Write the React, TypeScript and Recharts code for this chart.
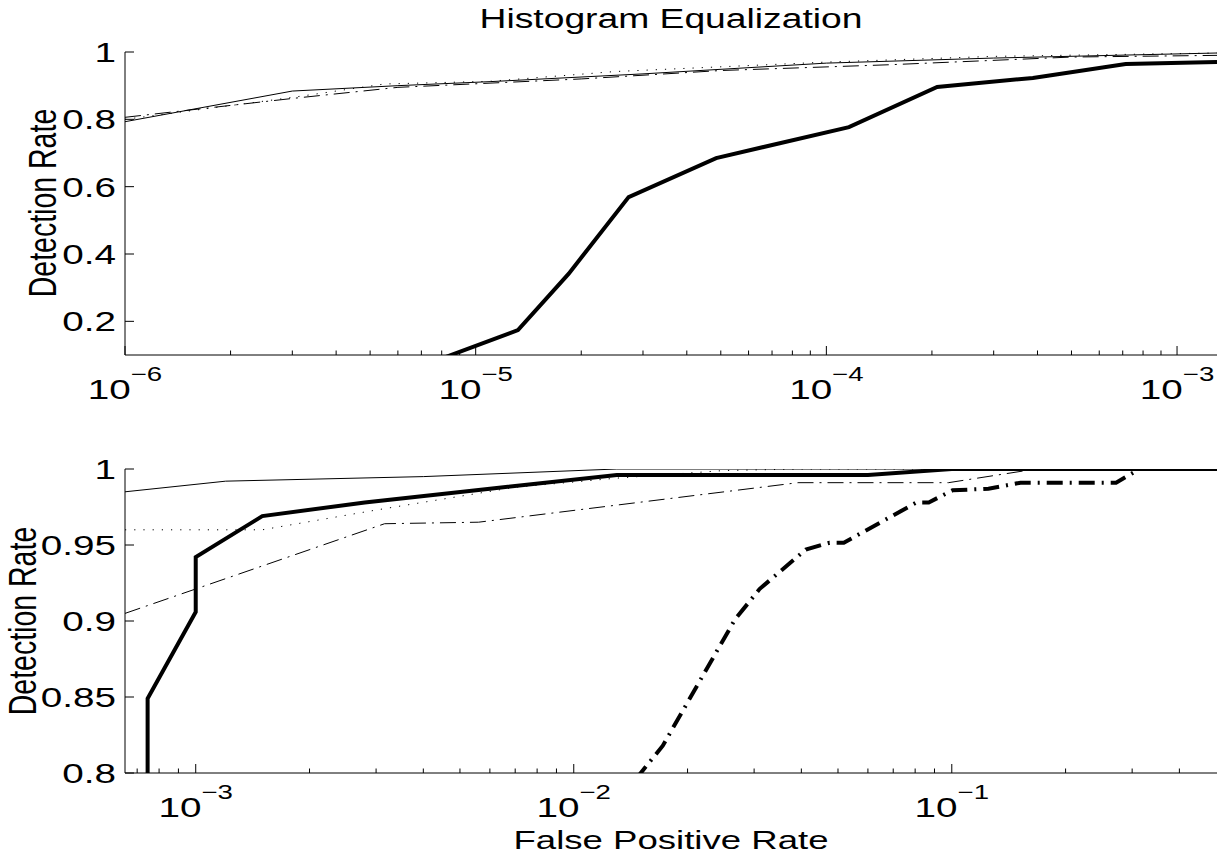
import React from "react";
import { LineChart, Line, XAxis, YAxis } from "recharts";

// ---- top panel (x: false positive rate, y: detection rate) ----
const topThinSolidFpr = [1e-6, 3e-6, 6e-6, 1.1e-5, 3e-5, 1e-4, 3e-4, 1.3e-3];
const topThinSolidDet = [0.793, 0.884, 0.9, 0.912, 0.935, 0.967, 0.982, 0.997];
const topDottedFpr = [1e-6, 3e-6, 5.5e-6, 1.1e-5, 2.5e-5, 1e-4, 3e-4, 1.3e-3];
const topDottedDet = [0.8, 0.865, 0.905, 0.913, 0.942, 0.97, 0.987, 0.997];
const topDashDotFpr = [1e-6, 3e-6, 6e-6, 2e-5, 5e-5, 1.5e-4, 5e-4, 1.3e-3];
const topDashDotDet = [0.806, 0.862, 0.895, 0.92, 0.945, 0.962, 0.985, 0.99];
const topThickFpr = [7e-6, 1.32e-5, 1.84e-5, 2.73e-5, 4.85e-5, 1.16e-4, 2.07e-4, 3.88e-4, 7.14e-4, 1.3e-3];
const topThickDet = [0.067, 0.174, 0.341, 0.569, 0.685, 0.777, 0.896, 0.923, 0.964, 0.97];

const topXTicks = [
  1e-6, 2e-6, 3e-6, 4e-6, 5e-6, 6e-6, 7e-6, 8e-6, 9e-6,
  1e-5, 2e-5, 3e-5, 4e-5, 5e-5, 6e-5, 7e-5, 8e-5, 9e-5,
  1e-4, 2e-4, 3e-4, 4e-4, 5e-4, 6e-4, 7e-4, 8e-4, 9e-4,
  1e-3,
];
const topXMajor = [1e-6, 1e-5, 1e-4, 1e-3];
const topXExp = ["\u22126", "\u22125", "\u22124", "\u22123"];
const topYTicks = [0.2, 0.4, 0.6, 0.8, 1];
const topYLabels = ["0.2", "0.4", "0.6", "0.8", "1"];

// ---- bottom panel ----
const botThinSolidFpr = [6.5e-4, 1.2e-3, 4e-3, 1.3e-2, 0.503];
const botThinSolidDet = [0.985, 0.992, 0.995, 1.0, 1.0];
const botDottedFpr = [6.5e-4, 1.5e-3, 3e-3, 7e-3, 1.3e-2, 2.5e-2, 4e-2, 0.503];
const botDottedDet = [0.96, 0.96, 0.973, 0.988, 0.994, 0.999, 1.0, 1.0];
const botDashDotFpr = [6.5e-4, 3.16e-3, 5.6e-3, 3.92e-2, 9.8e-2, 0.167, 0.503];
const botDashDotDet = [0.905, 0.964, 0.965, 0.991, 0.991, 1.0, 1.0];
const botThickFpr = [7.46e-4, 7.46e-4, 1e-3, 1e-3, 1.5e-3, 2.8e-3, 6e-3, 1.3e-2, 6e-2, 1e-1, 0.503];
const botThickDet = [0.78, 0.849, 0.906, 0.942, 0.969, 0.978, 0.987, 0.996, 0.996, 1.0, 1.0];
const botThickDashDotFpr = [
  1.46e-2, 1.72e-2, 2.67e-2, 3.1e-2, 4.11e-2, 4.75e-2, 5.18e-2, 8.07e-2,
  8.69e-2, 0.1005, 0.125, 0.152, 0.272, 0.314, 0.503,
];
const botThickDashDotDet = [
  0.796, 0.818, 0.901, 0.921, 0.947, 0.9515, 0.9515, 0.978,
  0.978, 0.986, 0.987, 0.991, 0.991, 1.0, 1.0,
];

const botXTicks = [
  7e-4, 8e-4, 9e-4,
  1e-3, 2e-3, 3e-3, 4e-3, 5e-3, 6e-3, 7e-3, 8e-3, 9e-3,
  1e-2, 2e-2, 3e-2, 4e-2, 5e-2, 6e-2, 7e-2, 8e-2, 9e-2,
  1e-1, 2e-1, 3e-1, 4e-1,
];
const botXMajor = [1e-3, 1e-2, 1e-1];
const botXExp = ["\u22123", "\u22122", "\u22121"];
const botYTicks = [0.8, 0.85, 0.9, 0.95, 1];
const botYLabels = ["0.8", "0.85", "0.9", "0.95", "1"];

const FONT = "'Liberation Sans', Arial, Helvetica, sans-serif";
const SX = 1.38; // the figure is stretched horizontally

const toPoints = (xs: number[], ys: number[]) => xs.map((x, i) => ({ x, y: ys[i] }));
const findIdx = (list: number[], v: number) => list.findIndex((t) => Math.abs(t - v) < 1e-12);

function xTick(majors: number[], exps: string[], side: "top" | "bottom") {
  return (props: any) => {
    const { x, y, payload } = props;
    const idx = findIdx(majors, payload.value);
    const len = idx >= 0 ? 9 : 4.5;
    const dir = side === "bottom" ? -1 : 1;
    return (
      <g>
        <line x1={x} x2={x} y1={y} y2={y + dir * len} stroke="#000" strokeWidth={1} />
        {idx >= 0 && side === "bottom" && (
          <text
            transform={`translate(${x} ${y + 44}) scale(${SX} 1)`}
            textAnchor="middle"
            fontFamily={FONT}
            fontSize={28}
            fill="#000"
          >
            10
            <tspan fontSize={20} dy={-18}>
              {exps[idx]}
            </tspan>
          </text>
        )}
      </g>
    );
  };
}

function yTick(ticks: number[], labels: string[], side: "left" | "right") {
  return (props: any) => {
    const { x, y, payload } = props;
    const idx = findIdx(ticks, payload.value);
    const dir = side === "left" ? 1 : -1;
    return (
      <g>
        <line x1={x} x2={x + dir * 9} y1={y} y2={y} stroke="#000" strokeWidth={1} />
        {side === "left" && idx >= 0 && (
          <text
            transform={`translate(${x - 9} ${y}) scale(${SX} 1)`}
            textAnchor="end"
            dy="0.36em"
            fontFamily={FONT}
            fontSize={28}
            fill="#000"
          >
            {labels[idx]}
          </text>
        )}
      </g>
    );
  };
}

interface PanelProps {
  height: number;
  marginTop: number;
  marginBottom: number;
  xAxisHeight: number;
  xDomain: [number, number];
  yDomain: [number, number];
  xTicks: number[];
  xMajor: number[];
  xExp: string[];
  yTicks: number[];
  yLabels: string[];
  children: React.ReactNode;
}

function Panel(p: PanelProps) {
  return (
    <LineChart
      width={1225}
      height={p.height}
      margin={{ top: p.marginTop, right: 8, left: 0, bottom: p.marginBottom }}
    >
      <XAxis
        dataKey="x"
        type="number"
        scale="log"
        domain={p.xDomain}
        allowDataOverflow
        ticks={p.xTicks}
        interval={0}
        height={p.xAxisHeight}
        tickSize={0}
        tickMargin={0}
        tickLine={false}
        axisLine={{ stroke: "#000", strokeWidth: 1 }}
        tick={xTick(p.xMajor, p.xExp, "bottom")}
      />
      <XAxis
        xAxisId="top"
        orientation="top"
        type="number"
        scale="log"
        domain={p.xDomain}
        allowDataOverflow
        ticks={p.xTicks}
        interval={0}
        height={0}
        tickSize={0}
        tickMargin={0}
        tickLine={false}
        axisLine={{ stroke: "#000", strokeWidth: 1 }}
        tick={xTick(p.xMajor, p.xExp, "top")}
      />
      <YAxis
        type="number"
        domain={p.yDomain}
        allowDataOverflow
        ticks={p.yTicks}
        interval={0}
        width={125}
        tickSize={0}
        tickMargin={0}
        tickLine={false}
        axisLine={{ stroke: "#000", strokeWidth: 1 }}
        tick={yTick(p.yTicks, p.yLabels, "left")}
      />
      <YAxis
        yAxisId="right"
        orientation="right"
        type="number"
        domain={p.yDomain}
        allowDataOverflow
        ticks={p.yTicks}
        interval={0}
        width={0}
        tickSize={0}
        tickMargin={0}
        tickLine={false}
        axisLine={{ stroke: "#000", strokeWidth: 1 }}
        tick={yTick(p.yTicks, p.yLabels, "right")}
      />
      {p.children}
    </LineChart>
  );
}

const lineBase = {
  type: "linear" as const,
  dataKey: "y",
  stroke: "#000",
  dot: false,
  activeDot: false,
  isAnimationActive: false,
};

export default function App() {
  return (
    <div
      style={{
        position: "absolute",
        left: 0,
        top: 0,
        width: 1225,
        height: 856,
        background: "#fff",
        overflow: "hidden",
      }}
    >
      <div style={{ position: "absolute", left: 0, top: 0 }}>
        <Panel
          height={425}
          marginTop={52}
          marginBottom={25}
          xAxisHeight={45}
          xDomain={[1e-6, 1.3e-3]}
          yDomain={[0.1, 1]}
          xTicks={topXTicks}
          xMajor={topXMajor}
          xExp={topXExp}
          yTicks={topYTicks}
          yLabels={topYLabels}
        >
          <Line {...lineBase} data={toPoints(topThinSolidFpr, topThinSolidDet)} strokeWidth={1} />
          <Line {...lineBase} data={toPoints(topDottedFpr, topDottedDet)} strokeWidth={1} strokeDasharray="1.2 8" />
          <Line {...lineBase} data={toPoints(topDashDotFpr, topDashDotDet)} strokeWidth={1} strokeDasharray="16 6 2 6" />
          <Line {...lineBase} data={toPoints(topThickFpr, topThickDet)} strokeWidth={4} />
        </Panel>
      </div>
      <div style={{ position: "absolute", left: 0, top: 400 }}>
        <Panel
          height={456}
          marginTop={69}
          marginBottom={0}
          xAxisHeight={83}
          xDomain={[6.5e-4, 0.503]}
          yDomain={[0.8, 1]}
          xTicks={botXTicks}
          xMajor={botXMajor}
          xExp={botXExp}
          yTicks={botYTicks}
          yLabels={botYLabels}
        >
          <Line {...lineBase} data={toPoints(botThinSolidFpr, botThinSolidDet)} strokeWidth={1} />
          <Line {...lineBase} data={toPoints(botDottedFpr, botDottedDet)} strokeWidth={1} strokeDasharray="1.2 8" />
          <Line {...lineBase} data={toPoints(botDashDotFpr, botDashDotDet)} strokeWidth={1} strokeDasharray="16 6 2 6" />
          <Line {...lineBase} data={toPoints(botThickFpr, botThickDet)} strokeWidth={4} />
          <Line
            {...lineBase}
            data={toPoints(botThickDashDotFpr, botThickDashDotDet)}
            strokeWidth={4}
            strokeDasharray="16 7 2 7"
          />
        </Panel>
      </div>
      <svg
        width={1225}
        height={856}
        style={{ position: "absolute", left: 0, top: 0, pointerEvents: "none" }}
      >
        <text
          transform={`translate(671 28) scale(${SX} 1)`}
          textAnchor="middle"
          fontFamily={FONT}
          fontSize={27}
          fill="#000"
        >
          Histogram Equalization
        </text>
        <text
          transform={`translate(56 203) scale(${SX} 1) rotate(-90)`}
          textAnchor="middle"
          fontFamily={FONT}
          fontSize={28.5}
          fill="#000"
        >
          Detection Rate
        </text>
        <text
          transform={`translate(36 621) scale(${SX} 1) rotate(-90)`}
          textAnchor="middle"
          fontFamily={FONT}
          fontSize={28.5}
          fill="#000"
        >
          Detection Rate
        </text>
        <text
          transform={`translate(671 849) scale(${SX} 1)`}
          textAnchor="middle"
          fontFamily={FONT}
          fontSize={26.5}
          fill="#000"
        >
          False Positive Rate
        </text>
      </svg>
    </div>
  );
}
